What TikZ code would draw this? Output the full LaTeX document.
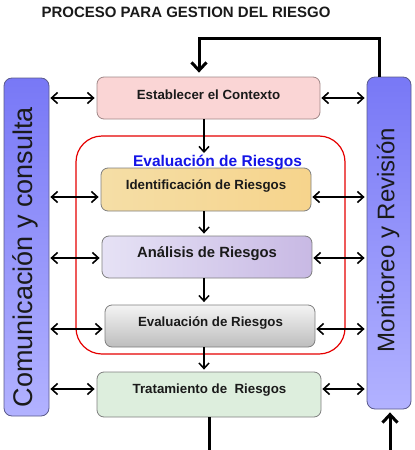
\documentclass[tikz,border=0pt]{standalone}
\usepackage{fontspec}
\setmainfont{Liberation Sans}
\usetikzlibrary{arrows.meta}
\definecolor{sbtop}{HTML}{7878F6}
\definecolor{sbbot}{HTML}{B2B2FF}
\definecolor{sbline}{HTML}{5A5A8C}
\definecolor{ctxfill}{HTML}{FAD5D5}
\definecolor{ctxline}{HTML}{A08888}
\definecolor{idL}{HTML}{F5DEA6}
\definecolor{idM}{HTML}{FFF2D6}
\definecolor{idR}{HTML}{F6D48C}
\definecolor{anL}{HTML}{E6E2F5}
\definecolor{anR}{HTML}{C8B9E4}
\definecolor{evT}{HTML}{F4F4F4}
\definecolor{evB}{HTML}{BDBDBD}
\definecolor{trfill}{HTML}{DDEEDD}
\definecolor{boxline}{HTML}{7F7F7F}
\definecolor{evalblue}{HTML}{1414E6}
\definecolor{txt}{HTML}{1A1A1A}
\begin{document}
\begin{tikzpicture}[x=1pt,y=-1pt,
  stagebox/.style={draw=boxline, line width=0.8pt, rounded corners=7pt, inner sep=0pt},
  sidebar/.style={draw=sbline, line width=0.8pt, rounded corners=8pt, inner sep=0pt, top color=sbtop, bottom color=sbbot},
  lbl/.style={font=\bfseries\fontsize{13.3}{15}\selectfont, text=txt, inner sep=0pt, anchor=base},
  dbl/.style={<->, line width=1.6pt, >={Straight Barb[length=6pt,width=11pt]}, shorten <=1pt, shorten >=2pt},
  flow/.style={->, line width=1.5pt, >={Straight Barb[length=5.5pt,width=10pt]}},
  loopline/.style={->, line width=3pt, >={Straight Barb[length=8pt,width=15pt]}},
]
\useasboundingbox (0,0) rectangle (415,450);

% title
\node[font=\bfseries\fontsize{15}{18}\selectfont, text=txt, anchor=base, inner sep=0pt] (title) at (186,17) {PROCESO PARA GESTION DEL RIESGO};

% side bars
\node[sidebar, minimum width=45pt, minimum height=338pt] (cc) at (26.5,247) {};
\node[rotate=90, font=\fontsize{27}{30}\selectfont, text=txt, inner sep=0pt] (cct) at (25,257) {Comunicación y consulta};
\node[sidebar, minimum width=44pt, minimum height=332pt] (mr) at (389,243) {};
\node[rotate=90, font=\fontsize{24}{28}\selectfont, text=txt, inner sep=0pt] (mrt) at (388,240) {Monitoreo y Revisión};

% red evaluation frame
\node[draw=red!90!black, line width=1.2pt, rounded corners=26pt, minimum width=269pt, minimum height=218pt, inner sep=0pt] (evalframe) at (210.5,245) {};

% stage boxes
\node[stagebox, draw=ctxline, fill=ctxfill, minimum width=223pt, minimum height=42pt] (ctx) at (208.5,98) {};
\node[lbl] (ctxt) at (208.5,99) {Establecer el Contexto};

\node[stagebox, left color=idL, middle color=idM, right color=idR, minimum width=210pt, minimum height=43pt] (id) at (206,189.5) {};
\node[lbl] (idt) at (206,189) {Identificación de Riesgos};

\node[stagebox, left color=anL, right color=anR, minimum width=210pt, minimum height=42pt] (an) at (207,257) {};
\node[lbl, font=\bfseries\fontsize{14.8}{17}\selectfont] (ant) at (207,257) {Análisis de Riesgos};

\node[stagebox, top color=evT, bottom color=evB, minimum width=210pt, minimum height=42pt] (ev) at (210,326) {};
\node[lbl] (evt) at (210.5,326) {Evaluación de Riesgos};

\node[stagebox, fill=trfill, minimum width=224pt, minimum height=45pt] (tr) at (209,394.5) {};
\node[lbl] (trt) at (209.5,393) {Tratamiento de\ \ Riesgos};

% vertical flow
\coordinate (spine) at (204,0);
\coordinate (entry) at (204,153);
\draw[flow] (ctx.south -| spine) -- (entry);
\node[font=\bfseries\fontsize{15.5}{18}\selectfont, text=evalblue, anchor=base, inner sep=0pt] (evalt) at (217.5,166) {Evaluación de Riesgos};
\draw[flow, shorten >=2pt] (id.south -| spine) -- (an.north -| spine);
\draw[flow, shorten >=2.5pt] (an.south -| spine) -- (ev.north -| spine);
\draw[flow, shorten >=2pt] (ev.south -| spine) -- (tr.north -| spine);

% double arrows
\coordinate (a1) at (ctx.west);
\coordinate (a2) at ([yshift=-7.5pt]id.west);
\coordinate (a3) at ([yshift=-1pt]an.west);
\coordinate (a4) at ([yshift=-3pt]ev.west);
\coordinate (a5) at ([yshift=5.5pt]tr.west);
\foreach \a in {a1,a2,a3,a4,a5}{
  \draw[dbl] (cc.east |- \a) -- (\a);
}
\coordinate (b1) at (ctx.east);
\coordinate (b2) at ([yshift=-7.5pt]id.east);
\coordinate (b3) at ([yshift=-1pt]an.east);
\coordinate (b4) at ([yshift=-3pt]ev.east);
\coordinate (b5) at ([yshift=5.5pt]tr.east);
\foreach \b in {b1,b2,b3,b4,b5}{
  \draw[dbl] (\b) -- (mr.west |- \b);
}

% feedback loops
\coordinate (tl1) at (379,38);
\coordinate (tl2) at (199,38);
\draw[loopline, shorten >=4pt] (mr.north -| tl1) -- (tl1) -- (tl2) -- (ctx.north -| tl2);
\coordinate (bl1) at (209,451.3);
\coordinate (bl2) at (390,451.3);
\draw[loopline, shorten >=3pt] (tr.south -| bl1) -- (bl1) -- (bl2) -- (mr.south -| bl2);
\end{tikzpicture}
\end{document}
